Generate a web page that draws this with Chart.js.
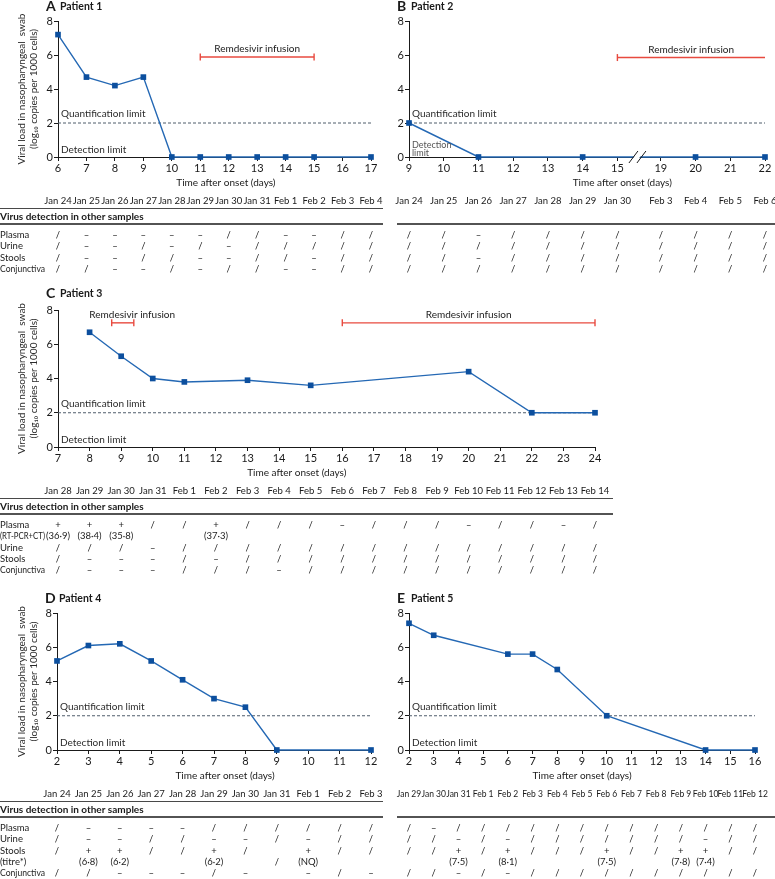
<!DOCTYPE html>
<html>
<head>
<meta charset="utf-8">
<script src="https://cdn.jsdelivr.net/npm/chart.js@4.4.1/dist/chart.umd.min.js"></script>
<style>
  body { margin: 0; background: #fff; width: 775px; height: 879px; position: relative; overflow: hidden; }
  .panel { position: absolute; }
</style>
</head>
<body>
<div class="panel" style="left:0;top:0;width:385px;height:285px"><canvas id="chartA"></canvas></div>
<div class="panel" style="left:385px;top:0;width:390px;height:285px"><canvas id="chartB"></canvas></div>
<div class="panel" style="left:0;top:283px;width:775px;height:300px"><canvas id="chartC"></canvas></div>
<div class="panel" style="left:0;top:585px;width:385px;height:294px"><canvas id="chartD"></canvas></div>
<div class="panel" style="left:385px;top:585px;width:390px;height:294px"><canvas id="chartE"></canvas></div>
<script>
const FONT = 'Lato, "Open Sans", sans-serif';
const INK = '#1a1a1a';
const BLUE = '#2468b4';
const MARK = '#0c4f9e';
const RED = '#e84a3f';

const quantLimit = 2;
const detectLimit = 0;

// Patient 1
const p1Days = [6, 7, 8, 9, 10, 11, 12, 13, 14, 15, 17];
const p1Load = [7.2, 4.7, 4.2, 4.7, 0, 0, 0, 0, 0, 0, 0];
const p1Cols = [6, 7, 8, 9, 10, 11, 12, 13, 14, 15, 16, 17];
const p1Dates = ['Jan 24', 'Jan 25', 'Jan 26', 'Jan 27', 'Jan 28', 'Jan 29', 'Jan 30', 'Jan 31', 'Feb 1', 'Feb 2', 'Feb 3', 'Feb 4'];
const p1Plasma = ['/', '–', '–', '–', '–', '–', '/', '/', '–', '–', '/', '/'];
const p1Urine = ['/', '–', '–', '/', '–', '/', '–', '/', '/', '/', '/', '/'];
const p1Stools = ['/', '–', '–', '/', '/', '–', '–', '/', '/', '–', '/', '/'];
const p1Conj = ['/', '/', '–', '–', '/', '–', '/', '/', '–', '–', '/', '/'];

// Patient 2 (axis broken between day 15 and day 19)
const p2Days = [9, 11, 14, 20, 22];
const p2Load = [2, 0, 0, 0, 0];
const p2Cols = [9, 10, 11, 12, 13, 14, 15, 19, 20, 21, 22];
const p2Dates = ['Jan 24', 'Jan 25', 'Jan 26', 'Jan 27', 'Jan 28', 'Jan 29', 'Jan 30', 'Feb 3', 'Feb 4', 'Feb 5', 'Feb 6'];
const p2Plasma = ['/', '/', '–', '/', '/', '/', '/', '/', '/', '/', '/'];
const p2Urine = ['/', '/', '/', '/', '/', '/', '/', '/', '/', '/', '/'];
const p2Stools = ['/', '/', '–', '/', '/', '/', '/', '/', '/', '/', '/'];
const p2Conj = ['/', '/', '/', '/', '/', '/', '/', '/', '/', '/', '/'];

// Patient 3
const p3Days = [8, 9, 10, 11, 13, 15, 20, 22, 24];
const p3Load = [6.7, 5.3, 4.0, 3.8, 3.9, 3.6, 4.4, 2.0, 2.0];
const p3Cols = [7, 8, 9, 10, 11, 12, 13, 14, 15, 16, 17, 18, 19, 20, 21, 22, 23, 24];
const p3Dates = ['Jan 28', 'Jan 29', 'Jan 30', 'Jan 31', 'Feb 1', 'Feb 2', 'Feb 3', 'Feb 4', 'Feb 5', 'Feb 6', 'Feb 7', 'Feb 8', 'Feb 9', 'Feb 10', 'Feb 11', 'Feb 12', 'Feb 13', 'Feb 14'];
const p3Plasma = ['+', '+', '+', '/', '/', '+', '/', '/', '/', '–', '/', '/', '/', '–', '/', '/', '–', '/'];
const p3Ct = ['(36·9)', '(38·4)', '(35·8)', '', '', '(37·3)', '', '', '', '', '', '', '', '', '', '', '', ''];
const p3Urine = ['/', '/', '/', '–', '/', '/', '/', '/', '/', '/', '/', '/', '/', '/', '/', '/', '/', '/'];
const p3Stools = ['/', '–', '–', '–', '/', '–', '/', '/', '/', '/', '/', '/', '/', '/', '/', '/', '/', '/'];
const p3Conj = ['/', '–', '–', '–', '/', '/', '/', '–', '/', '/', '/', '/', '/', '/', '/', '/', '/', '/'];

// Patient 4
const p4Days = [2, 3, 4, 5, 6, 7, 8, 9, 12];
const p4Load = [5.2, 6.1, 6.2, 5.2, 4.1, 3.0, 2.5, 0, 0];
const p4Cols = [2, 3, 4, 5, 6, 7, 8, 9, 10, 11, 12];
const p4Dates = ['Jan 24', 'Jan 25', 'Jan 26', 'Jan 27', 'Jan 28', 'Jan 29', 'Jan 30', 'Jan 31', 'Feb 1', 'Feb 2', 'Feb 3'];
const p4Plasma = ['/', '–', '–', '–', '–', '/', '/', '/', '/', '/', '/'];
const p4Urine = ['/', '–', '–', '/', '/', '–', '–', '/', '–', '/', '/'];
const p4Stools = ['/', '+', '+', '/', '/', '+', '/', '', '+', '/', '/'];
const p4Titre = ['', '(6·8)', '(6·2)', '', '', '(6·2)', '', '/', '(NQ)', '', ''];
const p4Conj = ['/', '/', '–', '–', '–', '/', '–', '', '–', '/', '–'];

// Patient 5
const p5Days = [2, 3, 6, 7, 8, 10, 14, 16];
const p5Load = [7.4, 6.7, 5.6, 5.6, 4.7, 2.0, 0, 0];
const p5Cols = [2, 3, 4, 5, 6, 7, 8, 9, 10, 11, 12, 13, 14, 15, 16];
const p5Dates = ['Jan 29', 'Jan 30', 'Jan 31', 'Feb 1', 'Feb 2', 'Feb 3', 'Feb 4', 'Feb 5', 'Feb 6', 'Feb 7', 'Feb 8', 'Feb 9', 'Feb 10', 'Feb 11', 'Feb 12'];
const p5Plasma = ['/', '–', '/', '/', '/', '/', '/', '/', '/', '/', '/', '/', '/', '/', '/'];
const p5Urine = ['/', '/', '–', '/', '–', '/', '/', '/', '/', '/', '/', '/', '–', '/', '/'];
const p5Stools = ['/', '/', '+', '/', '+', '/', '/', '/', '+', '/', '/', '+', '+', '/', '/'];
const p5Titre = ['', '', '(7·5)', '', '(8·1)', '', '', '', '(7·5)', '', '', '(7·8)', '(7·4)', '', ''];
const p5Conj = ['/', '/', '–', '/', '–', '/', '/', '/', '/', '/', '/', '/', '/', '/', '/'];

// remdesivir infusion periods (days after onset) and the height they are drawn at
const p1Infusion = [{from: 11, to: 15, y: 5.88}];
const p2Infusion = [{from: 15, to: 22, y: 5.85, openEnd: true}];
const p3Infusion = [{from: 8.7, to: 9.4, y: 7.25, labelAt: 9.35}, {from: 16, to: 24, y: 7.25}];

const yTitle = ['Viral load in nasopharyngeal  swab', '(log\u2081\u2080 copies per 1000 cells)'];

function line(ctx, x1, y1, x2, y2) {
  ctx.beginPath();
  ctx.moveTo(x1, y1);
  ctx.lineTo(x2, y2);
  ctx.stroke();
}

function extras(p) {
  const pos = p.pos || (d => d);
  return {
    id: 'extras' + p.letter,
    afterDraw(chart) {
      const {ctx, chartArea: a} = chart;
      const x = chart.scales.x, y = chart.scales.y;
      const px = d => x.getPixelForValue(pos(d));
      ctx.save();
      ctx.textBaseline = 'middle';

      // break marks on the x axis
      if (p.breakAt) {
        const bx = x.getPixelForValue(p.breakAt), by = a.bottom;
        ctx.fillStyle = '#fff';
        ctx.beginPath();
        ctx.moveTo(bx - 9, by + 6); ctx.lineTo(bx - 1, by - 6);
        ctx.lineTo(bx + 5, by - 6); ctx.lineTo(bx - 3, by + 6);
        ctx.closePath();
        ctx.fill();
        ctx.strokeStyle = INK;
        ctx.lineWidth = 1;
        line(ctx, bx - 10, by + 6, bx - 1, by - 6);
        line(ctx, bx - 2, by + 6, bx + 7, by - 6);
      }

      // heading
      ctx.fillStyle = INK;
      ctx.textAlign = 'left';
      ctx.font = 'bold 14px ' + FONT;
      ctx.fillText(p.letter, p.headX, p.headY);
      ctx.font = 'bold 10.5px ' + FONT;
      ctx.fillText(p.title, p.headX + 14, p.headY + 1);

      // limit notes
      ctx.fillStyle = '#2b2b2b';
      ctx.font = '10px ' + FONT;
      ctx.fillText('Quantification limit', a.left + 3, y.getPixelForValue(quantLimit) - 9);
      if (p.splitDetection) {
        ctx.font = '9px ' + FONT;
        ctx.fillStyle = '#555';
        ctx.fillText('Detection', a.left + 3, y.getPixelForValue(detectLimit) - 12);
        ctx.fillText('limit', a.left + 3, y.getPixelForValue(detectLimit) - 4);
      } else {
        ctx.fillText('Detection limit', a.left + 3, y.getPixelForValue(detectLimit) - 7);
      }

      // infusion labels
      ctx.fillStyle = INK;
      ctx.textAlign = 'center';
      ctx.font = '10px ' + FONT;
      (p.infusions || []).forEach(f => {
        const cx = f.labelAt !== undefined ? x.getPixelForValue(pos(f.labelAt)) : (px(f.from) + px(f.to)) / 2;
        ctx.fillText('Remdesivir infusion', cx, y.getPixelForValue(f.y) - 8);
      });

      // x axis title
      ctx.font = '10px ' + FONT;
      ctx.fillText('Time after onset (days)', x.getPixelForValue(p.xTitleAt), a.bottom + 26);

      // table of other samples
      const b = a.bottom;
      ctx.font = (p.dateSize || 9.5) + 'px ' + FONT;
      p.cols.forEach((d, i) => ctx.fillText(p.dates[i], px(d), b + 44));
      ctx.strokeStyle = INK;
      if (p.header) {
        ctx.lineWidth = 0.8;
        line(ctx, p.ruleFrom, b + 51.5, p.ruleTo, b + 51.5);
        ctx.textAlign = 'left';
        ctx.font = 'bold 10px ' + FONT;
        ctx.fillText('Virus detection in other samples', 0, b + 59.5);
      }
      ctx.lineWidth = 1.5;
      line(ctx, p.ruleFrom, b + 67, p.ruleTo, b + 67);

      p.rows.forEach((r, j) => {
        const ry = b + 78 + j * 11.3;
        ctx.font = '9.5px ' + FONT;
        ctx.fillStyle = '#222';
        if (p.header && r.label) {
          ctx.textAlign = 'left';
          ctx.fillText(r.label, 0, ry, 45);
        }
        ctx.textAlign = 'center';
        r.cells.forEach((c, i) => { if (c) ctx.fillText(c, px(p.cols[i]), ry); });
      });
      ctx.restore();
    }
  };
}

function makeChart(id, p) {
  const pos = p.pos || (d => d);
  const datasets = [
    {
      data: p.days.map((d, i) => ({x: pos(d), y: p.load[i]})),
      borderColor: BLUE, borderWidth: 1.4,
      pointStyle: 'rect', pointRadius: 4, pointBorderWidth: 0,
      pointBackgroundColor: MARK, clip: false
    },
    {
      data: [{x: pos(p.xMin), y: quantLimit}, {x: pos(p.xMax), y: quantLimit}],
      borderColor: '#4f5d6b', borderWidth: 1, borderDash: [3, 2], pointRadius: 0
    }
  ];
  (p.infusions || []).forEach(f => datasets.push({
    data: [{x: pos(f.from), y: f.y}, {x: pos(f.to), y: f.y}],
    borderColor: RED, borderWidth: 1.4,
    pointStyle: 'line', rotation: 90, pointRadius: f.openEnd ? [3.5, 0] : 3.5,
    pointBorderColor: RED, pointBorderWidth: 1.4, clip: false
  }));

  const tickFont = {family: FONT, size: 11};
  return new Chart(document.getElementById(id), {
    type: 'line',
    data: {datasets},
    options: {
      responsive: true,
      maintainAspectRatio: false,
      animation: false,
      events: [],
      layout: {padding: {left: 0, top: p.padTop, right: p.padRight, bottom: p.padBottom}},
      plugins: {legend: {display: false}, tooltip: {enabled: false}},
      scales: {
        x: {
          type: 'linear',
          min: pos(p.xMin), max: pos(p.xMax),
          afterBuildTicks: ax => { ax.ticks = p.ticks.map(d => ({value: pos(d)})); },
          afterFit: ax => { ax.height = 16; },
          ticks: {autoSkip: false, maxRotation: 0, padding: 1, color: INK, font: tickFont,
                  callback: (v, i) => String(p.ticks[i])},
          grid: {drawOnChartArea: false, tickLength: 4, color: INK},
          border: {color: INK, width: 1}
        },
        y: {
          min: 0, max: 8,
          afterFit: ax => { ax.width = p.yWidth; },
          ticks: {stepSize: 2, padding: 1, color: INK, font: tickFont},
          grid: {drawOnChartArea: false, tickLength: 4, color: INK},
          border: {color: INK, width: 1},
          title: {display: !!p.yTitle, text: yTitle, color: '#2b2b2b',
                  font: {family: FONT, size: 10}, padding: {top: 16, bottom: 0}}
        }
      }
    },
    plugins: [extras(p)]
  });
}

makeChart('chartA', {
  letter: 'A', title: 'Patient 1', headX: 46, headY: 6,
  days: p1Days, load: p1Load, xMin: 6, xMax: 17, ticks: p1Cols,
  infusions: p1Infusion, cols: p1Cols, dates: p1Dates, xTitleAt: 11.9,
  rows: [{label: 'Plasma', cells: p1Plasma}, {label: 'Urine', cells: p1Urine},
         {label: 'Stools', cells: p1Stools}, {label: 'Conjunctiva', cells: p1Conj}],
  header: true, ruleFrom: 0, ruleTo: 383, yTitle: true,
  padTop: 21, padRight: 14, padBottom: 112, yWidth: 58
});

makeChart('chartB', {
  letter: 'B', title: 'Patient 2', headX: 12, headY: 6,
  pos: d => (d >= 19 ? d - 2.75 : d), breakAt: 15.62,
  days: p2Days, load: p2Load, xMin: 9, xMax: 22, ticks: p2Cols,
  infusions: p2Infusion, cols: p2Cols, dates: p2Dates, xTitleAt: 15.14,
  rows: [{cells: p2Plasma}, {cells: p2Urine}, {cells: p2Stools}, {cells: p2Conj}],
  header: false, ruleFrom: 12, ruleTo: 390, splitDetection: true,
  padTop: 21, padRight: 10, padBottom: 112, yWidth: 24
});

makeChart('chartC', {
  letter: 'C', title: 'Patient 3', headX: 46, headY: 10,
  days: p3Days, load: p3Load, xMin: 7, xMax: 24, ticks: p3Cols,
  infusions: p3Infusion, cols: p3Cols, dates: p3Dates, xTitleAt: 14.56,
  rows: [{label: 'Plasma', cells: p3Plasma}, {label: '(RT-PCR+CT)', cells: p3Ct},
         {label: 'Urine', cells: p3Urine}, {label: 'Stools', cells: p3Stools},
         {label: 'Conjunctiva', cells: p3Conj}],
  header: true, ruleFrom: 0, ruleTo: 613, yTitle: true,
  padTop: 27, padRight: 180, padBottom: 120, yWidth: 58
});

makeChart('chartD', {
  letter: 'D', title: 'Patient 4', headX: 45, headY: 13,
  days: p4Days, load: p4Load, xMin: 2, xMax: 12, ticks: p4Cols,
  cols: p4Cols, dates: p4Dates, xTitleAt: 7.35,
  rows: [{label: 'Plasma', cells: p4Plasma}, {label: 'Urine', cells: p4Urine},
         {label: 'Stools', cells: p4Stools}, {label: '(titre*)', cells: p4Titre},
         {label: 'Conjunctiva', cells: p4Conj}],
  header: true, ruleFrom: 0, ruleTo: 383, yTitle: true,
  padTop: 28, padRight: 14, padBottom: 113, yWidth: 57
});

makeChart('chartE', {
  letter: 'E', title: 'Patient 5', headX: 12, headY: 13,
  days: p5Days, load: p5Load, xMin: 2, xMax: 16, ticks: p5Cols,
  cols: p5Cols, dates: p5Dates, xTitleAt: 9.0, dateSize: 8.5,
  rows: [{cells: p5Plasma}, {cells: p5Urine}, {cells: p5Stools},
         {cells: p5Titre}, {cells: p5Conj}],
  header: false, ruleFrom: 12, ruleTo: 390,
  padTop: 28, padRight: 20, padBottom: 113, yWidth: 24
});
</script>
</body>
</html>
